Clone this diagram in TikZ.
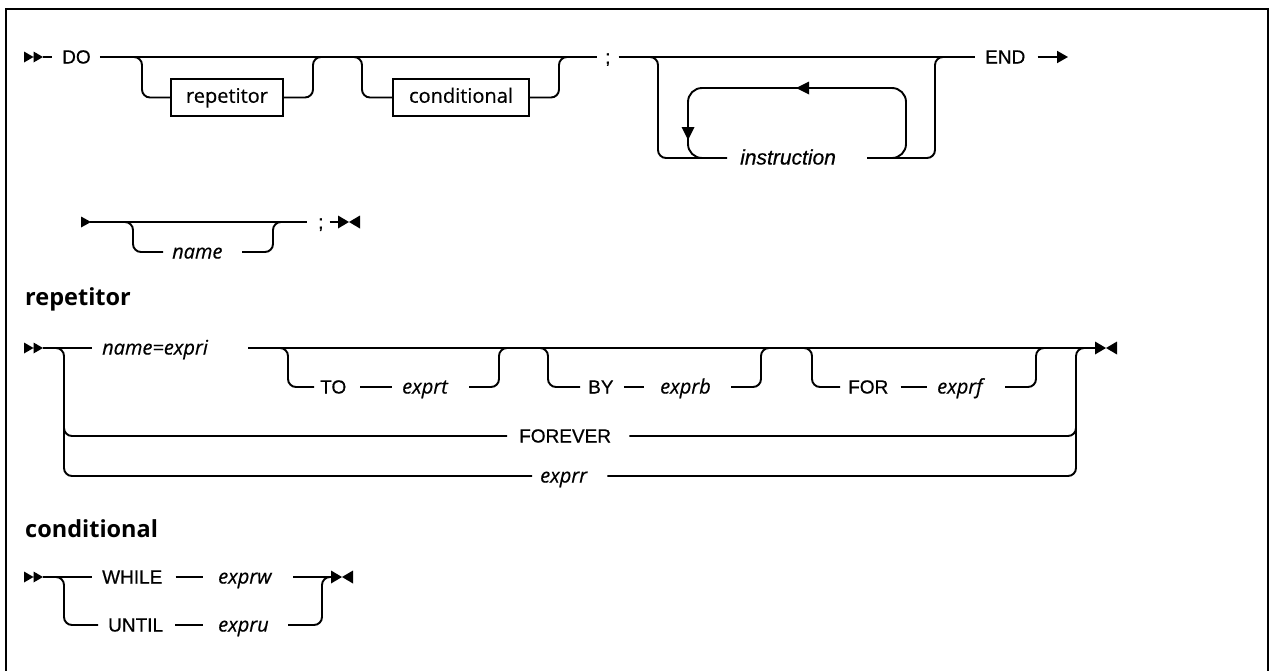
\documentclass[tikz,border=0pt]{standalone}
\usepackage{fontspec}
\setmainfont{Liberation Sans}[FakeBold=0.6]
\newfontfamily\opensans{Open Sans}[FakeBold=0.5]
\newfontfamily\opensansbold{Open Sans Bold}
\usetikzlibrary{arrows.meta}

\tikzset{
  rail/.style={line width=1.9pt, rounded corners=8pt},
  kw/.style={font=\fontsize{19}{22}\selectfont, inner sep=0pt, anchor=west, text height=13pt, text depth=0pt},
  var/.style={font=\opensans\itshape\fontsize{20}{24}\selectfont, inner sep=0pt, anchor=west, text height=13pt, text depth=0pt},
  refbox/.style={draw, line width=1.9pt, font=\opensans\fontsize{20}{24}\selectfont, inner sep=0pt, minimum height=37pt, text height=15pt, text depth=4.5pt},
  heading/.style={font=\opensansbold\fontsize{23.5}{28}\selectfont, inner sep=0pt, anchor=base west},
  start2/.pic={\fill (0,-5.5) -- (9.5,0) -- (0,5.5) -- cycle (9.5,-5.5) -- (19,0) -- (9.5,5.5) -- cycle;},
  stop2/.pic={\fill (0,-6.5) -- (11,0) -- (0,6.5) -- cycle (22,-6.5) -- (11,0) -- (22,6.5) -- cycle;},
}

\begin{document}
\begin{tikzpicture}[x=1pt, y=-1pt]
  \useasboundingbox (0,0) rectangle (1273,670);
  \clip (0,0) rectangle (1273,670);
  \draw[line width=2pt] (6,700) -- (6,9) -- (1268,9) -- (1268,700);

  % DO ... END
  \node[kw] (do) at (62,57) {DO};
  \node[refbox, minimum width=112pt] (rep) at (227,97.5) {repetitor};
  \node[refbox, minimum width=136pt] (cond) at (461,97.5) {conditional};
  \node[kw] (semi) at (605,57) {;};
  \node[kw, font=\itshape\fontsize{21}{24}\selectfont] (instr) at (740,158) {instruction};
  \node[kw] (end) at (985,57) {END};

  \pic at (24,57) {start2};
  \draw[rail] (43,57) -- ([xshift=-10pt]do.west);
  \draw[rail] ([xshift=9pt]do.east) -- ([xshift=-8pt]semi.west);
  \draw[rail] (130,57) -- (142,57) -- (142,97.5) -- (rep.west);
  \draw[rail] (rep.east) -- (313,97.5) -- (313,57) -- (325,57);
  \draw[rail] (350,57) -- (362,57) -- (362,97.5) -- (cond.west);
  \draw[rail] (cond.east) -- (559,97.5) -- (559,57) -- (570,57);
  \draw[rail] ([xshift=8pt]semi.east) -- ([xshift=-10pt]end.west);
  \draw[rail] (645,57) -- (658,57) -- (658,158) -- ([xshift=-13pt]instr.west);
  \draw[rail] (867,158) -- (935,158) -- (935,57) -- (947,57);
  \draw[line width=1.9pt, rounded corners=14pt] (880,158) -- (906,158) -- (906,88) -- (688,88) -- (688,158) -- (712,158);
  \fill (796,88) -- (809,81.5) -- (809,94.5) -- cycle;
  \fill (688,140) -- (681.5,127) -- (694.5,127) -- cycle;
  \draw[line width=1.9pt, -{Triangle[length=11pt,width=12pt]}] ([xshift=12pt]end.east) -- (1068,57);

  % name ;
  \node[var] (name) at (172,252) {name};
  \node[kw] (semib) at (318,222) {;};
  \fill (81,216.5) -- (91,222) -- (81,227.5) -- cycle;
  \draw[rail] (90,222) -- ([xshift=-11pt]semib.west);
  \draw[rail] (121,222) -- (133,222) -- (133,252) -- ([xshift=-9pt]name.west);
  \draw[rail] (242,252) -- (273,252) -- (273,222) -- (285,222);
  \draw[rail] ([xshift=6pt]semib.east) -- (338,222);
  \pic at (338,222) {stop2};

  % repetitor
  \node[heading] (hrep) at (25,305) {repetitor};
  \node[var] (expri) at (102,348) {name=expri};
  \node[kw] (to) at (320,387) {TO};
  \node[var] (exprt) at (402,387) {exprt};
  \node[kw] (by) at (588,387) {BY};
  \node[var] (exprb) at (660,387) {exprb};
  \node[kw] (for) at (848,387) {FOR};
  \node[var] (exprf) at (937,387) {exprf};
  \node[kw] (forever) at (519,436) {FOREVER};
  \node[var] (exprr) at (540,476) {exprr};

  \pic at (24,348) {start2};
  \draw[rail] (43,348) -- ([xshift=-10pt]expri.west);
  \draw[rail] (52,348) -- (64,348) -- (64,436) -- ([xshift=-12pt]forever.west);
  \draw[rail] (64,420) -- (64,476) -- ([xshift=-8pt]exprr.west);
  \draw[rail] (248,348) -- (1095,348);
  \draw[rail] (275,348) -- (288,348) -- (288,387) -- ([xshift=-6pt]to.west);
  \draw[rail] ([xshift=14pt]to.east) -- ([xshift=-10pt]exprt.west);
  \draw[rail] (469,387) -- (499,387) -- (499,348) -- (511,348);
  \draw[rail] (536,348) -- (548,348) -- (548,387) -- ([xshift=-8pt]by.west);
  \draw[rail] ([xshift=10pt]by.east) -- ([xshift=-16pt]exprb.west);
  \draw[rail] (731,387) -- (761,387) -- (761,348) -- (773,348);
  \draw[rail] (800,348) -- (812,348) -- (812,387) -- ([xshift=-8pt]for.west);
  \draw[rail] ([xshift=12pt]for.east) -- ([xshift=-10pt]exprf.west);
  \draw[rail] (1005,387) -- (1036,387) -- (1036,348) -- (1048,348);
  \draw[rail] ([xshift=18pt]forever.east) -- (1076,436) -- (1076,348) -- (1088,348);
  \draw[rail] ([xshift=20pt]exprr.east) -- (1076,476) -- (1076,420);
  \pic at (1095,348) {stop2};

  % conditional
  \node[heading] (hcond) at (25,537) {conditional};
  \node[kw] (while) at (102,577) {WHILE};
  \node[var] (exprw) at (218,577) {exprw};
  \node[kw] (until) at (108,625) {UNTIL};
  \node[var] (expru) at (218,625) {expru};

  \pic at (24,577) {start2};
  \draw[rail] (43,577) -- ([xshift=-10pt]while.west);
  \draw[rail] ([xshift=13pt]while.east) -- ([xshift=-15pt]exprw.west);
  \draw[rail] (293,577) -- (331,577);
  \draw[rail] (52,577) -- (64,577) -- (64,625) -- ([xshift=-10pt]until.west);
  \draw[rail] ([xshift=12pt]until.east) -- ([xshift=-15pt]expru.west);
  \draw[rail] (288,625) -- (322,625) -- (322,577) -- (334,577);
  \pic at (331,577) {stop2};
\end{tikzpicture}
\end{document}
